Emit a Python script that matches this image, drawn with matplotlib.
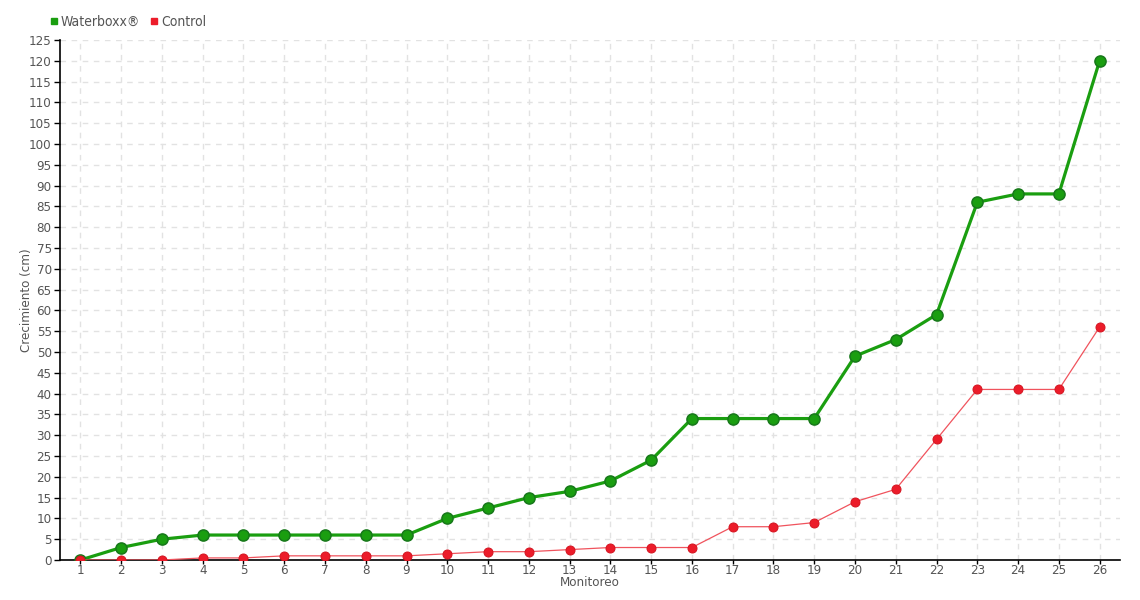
import matplotlib
matplotlib.use("Agg")
import matplotlib.pyplot as plt
from matplotlib.lines import Line2D

# monitoring number
monitoreo = list(range(1, 27))
# growth (cm)
waterboxx = [0, 3, 5, 6, 6, 6, 6, 6, 6, 10, 12.5, 15, 16.5, 19, 24, 34, 34, 34, 34,
             49, 53, 59, 86, 88, 88, 120]
control = [0, 0, 0, 0.5, 0.5, 1, 1, 1, 1, 1.5, 2, 2, 2.5, 3, 3, 3, 8, 8, 9,
           14, 17, 29, 41, 41, 41, 56]

GREEN = "#1a9e10"
RED = "#ec1c2a"
TXT = "#555555"

plt.rcParams['font.family'] = ['DejaVu Sans']
plt.rcParams['font.stretch'] = 'condensed'

fig = plt.figure(figsize=(11.4, 6), dpi=100)
ax = fig.add_axes([60 / 1140, 40 / 600, 1060 / 1140, 520 / 600])

ax.plot(monitoreo, waterboxx, color=GREEN, lw=2.3, marker="o", ms=8,
        mfc=GREEN, mec="#17781a", mew=1.1, zorder=3)
ax.plot(monitoreo, control, color="#f0535d", lw=0.9, marker="o", ms=6.5,
        mfc=RED, mec="#d41420", mew=0.7, zorder=4)

ax.set_xlim(0.5, 26.5)
ax.set_ylim(0, 125)
ax.set_xticks(monitoreo)
ax.set_yticks(range(0, 126, 5))
ax.grid(True, color="#e2e2e2", linestyle=(0, (4, 4)), lw=1)
ax.set_axisbelow(True)

for s in ["top", "right"]:
    ax.spines[s].set_visible(False)
for s in ["left", "bottom"]:
    ax.spines[s].set_color("black")
    ax.spines[s].set_linewidth(1.2)

ax.tick_params(axis="both", colors="black", labelcolor=TXT, labelsize=9.5,
               length=4, width=1, pad=2)
ax.tick_params(axis="x", length=3, pad=0)
ax.set_xlabel("Monitoreo", color=TXT, fontsize=9.5, va="center")
ax.xaxis.set_label_coords(0.5, -23 / 520)
ax.set_ylabel("Crecimiento (cm)", color=TXT, fontsize=9.5, va="center")
ax.yaxis.set_label_coords(-33 / 1060, 0.5)

handles = [Line2D([], [], ls="", marker="s", ms=5, color=GREEN),
           Line2D([], [], ls="", marker="s", ms=5, color=RED)]
fig.legend(handles, ["Waterboxx®", "Control"], loc="center left",
           bbox_to_anchor=(36 / 1140, 1 - 22 / 600), ncol=2, frameon=False,
           handletextpad=0.1, columnspacing=0.6, handlelength=0.8,
           labelcolor=TXT, fontsize=10)

fig.savefig("out.png", dpi=100)
